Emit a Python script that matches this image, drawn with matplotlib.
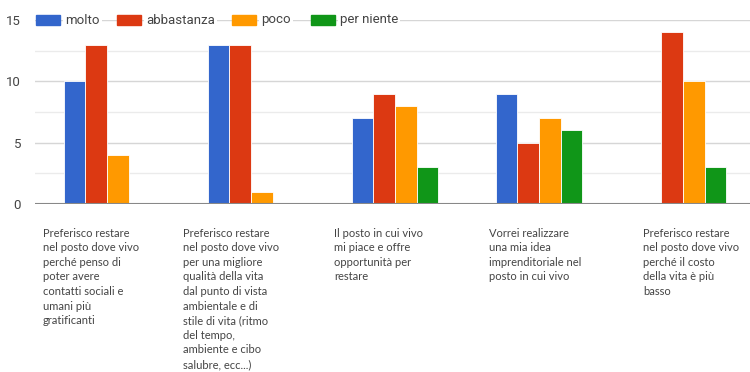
import matplotlib.pyplot as plt
import matplotlib.transforms as mtransforms
from matplotlib.patches import Rectangle
import numpy as np

# Survey answers per statement
categories = [
    "Preferisco restare\nnel posto dove vivo\nperché penso di\npoter avere\ncontatti sociali e\numani più\ngratificanti",
    "Preferisco restare\nnel posto dove vivo\nper una migliore\nqualità della vita\ndal punto di vista\nambientale e di\nstile di vita (ritmo\ndel tempo,\nambiente e cibo\nsalubre, ecc...)",
    "Il posto in cui vivo\nmi piace e offre\nopportunità per\nrestare",
    "Vorrei realizzare\nuna mia idea\nimprenditoriale nel\nposto in cui vivo",
    "Preferisco restare\nnel posto dove vivo\nperché il costo\ndella vita è più\nbasso",
]
series_names = ["molto", "abbastanza", "poco", "per niente"]
molto = [10, 13, 7, 9, 0]
abbastanza = [13, 13, 9, 5, 14]
poco = [4, 1, 8, 7, 10]
per_niente = [0, 0, 3, 6, 3]
y_ticks = [0, 5, 10, 15]

colors = ["#3366cc", "#dc3912", "#ff9900", "#109618"]
label_offsets = [-0.444, -0.472, -0.424, -0.347, -0.278]

plt.rcParams['font.family'] = ['Lato', 'DejaVu Sans']
text_color = "#444444"

fig = plt.figure(figsize=(7.5, 3.72), dpi=100)
ax = fig.add_axes([0.0467, 0.4516, 0.96, 0.4946])

x = np.arange(len(categories))
width = 0.15
for k, (vals, col) in enumerate(zip([molto, abbastanza, poco, per_niente], colors)):
    ax.bar(x + (k - 1.5) * width, vals, width, color=col,
           edgecolor="white", linewidth=0.6, zorder=3)

# gridlines: major every 5, lighter minor every 2.5
for v in [2.5, 7.5, 12.5]:
    ax.axhline(v, color="#ebebeb", lw=1.0, zorder=1)
for v in y_ticks[1:]:
    ax.axhline(v, color="#d6d6d6", lw=1.0, zorder=1)
ax.axhline(0, color="#888888", lw=1.5, zorder=4)

ax.set_xlim(-0.5, len(categories) - 0.5)
ax.set_ylim(0, 15)
ax.set_xticks([])
ax.set_yticks(y_ticks)
ax.set_yticklabels([str(t) for t in y_ticks], color=text_color, fontsize=9.5,
                   family=['Roboto', 'DejaVu Sans'])
ax.tick_params(axis="y", length=0, pad=10)
for s in ax.spines.values():
    s.set_visible(False)

# category labels below the axis, left aligned
trans = mtransforms.blended_transform_factory(ax.transData, ax.transAxes)
for i, (lab, off) in enumerate(zip(categories, label_offsets)):
    ax.text(i + off, -0.128, lab, transform=trans, ha="left", va="top",
            fontsize=8, color=text_color, linespacing=1.4, clip_on=False)

# legend drawn along the top gridline
legend_x = [36, 117, 232, 311]
for lx, name, col in zip(legend_x, series_names, colors):
    fig.patches.append(Rectangle((lx / 750, 1 - 25 / 372), 24 / 750, 10 / 372,
                                 transform=fig.transFigure, color=col, zorder=5))
    fig.text((lx + 29) / 750, 1 - 20 / 372, name, ha="left", va="center",
             fontsize=9.5, color=text_color, zorder=5,
             family=['Roboto', 'DejaVu Sans'],
             bbox=dict(facecolor="white", edgecolor="none", pad=1.5))

fig.savefig("out.png", dpi=100)
